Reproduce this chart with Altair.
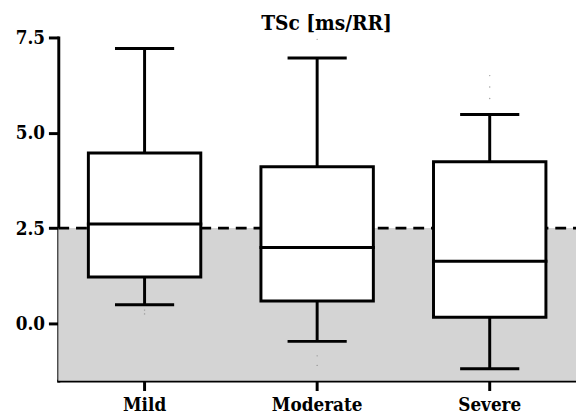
import altair as alt
import pandas as pd

groups = ["Mild", "Moderate", "Severe"]
whisk_min = [0.49, -0.47, -1.19]
q1 = [1.22, 0.59, 0.16]
median = [2.61, 1.99, 1.63]
q3 = [4.47, 4.11, 4.24]
whisk_max = [7.21, 6.96, 5.48]

out_group = ["Mild", "Mild", "Moderate", "Moderate", "Moderate", "Severe", "Severe", "Severe"]
out_value = [0.35, 0.25, 7.45, -0.85, -1.1, 6.5, 6.2, 5.9]

threshold = [2.5]
y_min, y_max = -1.5, 7.5
title_text = "TSc [ms/RR]"

df = pd.DataFrame({"group": groups, "lo": whisk_min, "q1": q1, "med": median, "q3": q3, "hi": whisk_max})
odf = pd.DataFrame({"group": out_group, "v": out_value})
tdf = pd.DataFrame({"t": threshold, "ymin": [y_min]})

FONT = "'DejaVu Serif Condensed', 'DejaVu Serif'"
FS = 19
W, H = 525, 348

x = alt.X("group:N", sort=groups, title=None,
          scale=alt.Scale(paddingInner=0, paddingOuter=0),
          axis=alt.Axis(labelAngle=0, labelFont=FONT, labelFontSize=FS, labelFontWeight="bold",
                        labelColor="black", tickSize=10, tickWidth=3, tickColor="black",
                        domainWidth=3, domainColor="black", labelPadding=5, grid=False))
yscale = alt.Scale(domain=[y_min, y_max], nice=False, zero=False)
yaxis = alt.Axis(values=[0, 2.5, 5, 7.5], format=".1f", labelFont=FONT, labelFontSize=FS,
                 labelFontWeight="bold", labelColor="black", tickSize=10, tickWidth=3,
                 tickColor="black", domainWidth=3, domainColor="black", labelPadding=4,
                 grid=False, title=None)

shade = alt.Chart(tdf).mark_rect(color="#d4d4d4").encode(
    x=alt.value(0), x2=alt.value(W),
    y=alt.Y("ymin:Q", scale=yscale, axis=yaxis), y2="t:Q")

dash = alt.Chart(tdf).mark_rule(color="black", strokeWidth=3, strokeDash=[11, 7]).encode(
    x=alt.value(0), x2=alt.value(W), y=alt.Y("t:Q", scale=yscale))

base = alt.Chart(df)
w_top = base.mark_rule(color="black", strokeWidth=3).encode(x=x, y=alt.Y("q3:Q", scale=yscale), y2="hi:Q")
w_bot = base.mark_rule(color="black", strokeWidth=3).encode(x=x, y=alt.Y("lo:Q", scale=yscale), y2="q1:Q")
box = base.mark_bar(fill="white", stroke="black", strokeWidth=3, width=114, opacity=1).encode(
    x=x, y=alt.Y("q1:Q", scale=yscale), y2="q3:Q")
med = base.mark_tick(color="black", thickness=3, size=117, orient="horizontal", opacity=1).encode(
    x=x, y=alt.Y("med:Q", scale=yscale))
cap_hi = base.mark_tick(color="black", thickness=3, size=60, orient="horizontal", opacity=1).encode(
    x=x, y=alt.Y("hi:Q", scale=yscale))
cap_lo = base.mark_tick(color="black", thickness=3, size=60, orient="horizontal", opacity=1).encode(
    x=x, y=alt.Y("lo:Q", scale=yscale))
outl = alt.Chart(odf).mark_point(filled=True, color="#777777", size=2, opacity=0.7).encode(
    x=x, y=alt.Y("v:Q", scale=yscale))

title = alt.Chart(pd.DataFrame({"t": [title_text]})).mark_text(
    font=FONT, fontSize=21, fontWeight="bold", color="black", align="center", baseline="alphabetic"
).encode(text="t:N", x=alt.value(272), y=alt.value(-8))

chart = alt.layer(shade, dash, w_top, w_bot, box, med, cap_hi, cap_lo, outl, title).properties(
    width=W, height=H,
    autosize=alt.AutoSizeParams(type="none"),
    padding={"left": 51, "top": 27, "right": 0, "bottom": 34},
).configure_view(stroke=None).configure_axis(domainCap="square")

chart.save("out.html", embed_options={"renderer": "svg", "actions": False})
